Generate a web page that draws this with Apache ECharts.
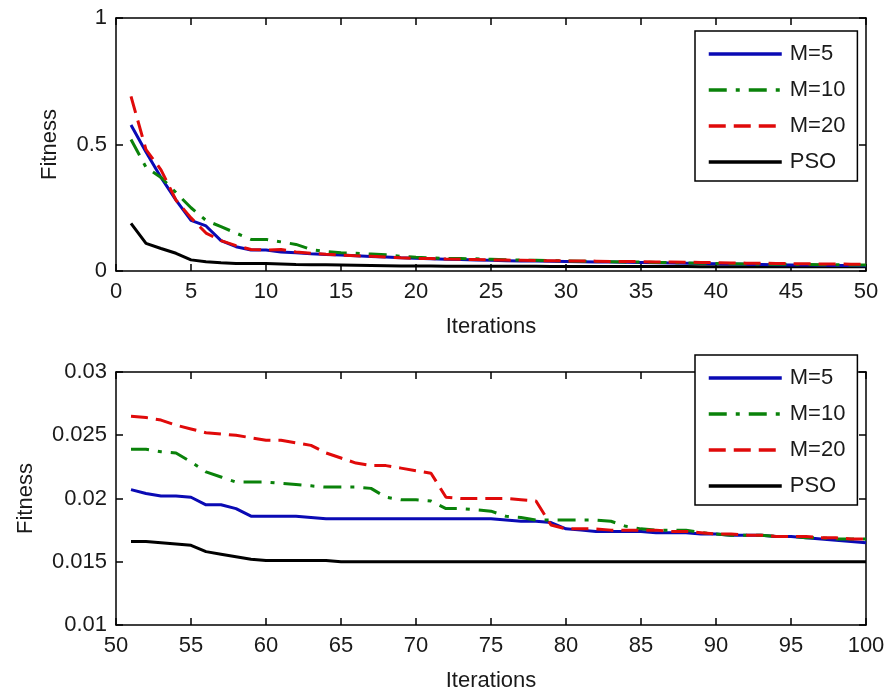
<!DOCTYPE html>
<html>
<head>
<meta charset="utf-8">
<title>Fitness vs Iterations</title>
<script src="https://cdn.jsdelivr.net/npm/echarts@6/dist/echarts.min.js"></script>
<style>
  html, body { margin: 0; padding: 0; background: #fff; }
  #chart { width: 888px; height: 696px; }
</style>
</head>
<body>
<div id="chart"></div>
<script>
// Best fitness per iteration (iterations 1..100) for each run
const seriesNames = ['M=5', 'M=10', 'M=20', 'PSO'];

const fitnessM5 = [
  0.577, 0.47, 0.37, 0.28, 0.20, 0.178, 0.12, 0.096, 0.083, 0.083,
  0.075, 0.072, 0.068, 0.065, 0.063, 0.060, 0.057, 0.055, 0.052, 0.050,
  0.048, 0.046, 0.045, 0.043, 0.042, 0.041, 0.040, 0.040, 0.039, 0.038,
  0.037, 0.036, 0.036, 0.035, 0.034, 0.033, 0.032, 0.031, 0.030, 0.029,
  0.028, 0.027, 0.026, 0.025, 0.024, 0.0235, 0.023, 0.022, 0.0215, 0.021,
  0.0207, 0.0204, 0.0202, 0.0202, 0.0201, 0.0195, 0.0195, 0.0192, 0.0186, 0.0186,
  0.0186, 0.0186, 0.0185, 0.0184, 0.0184, 0.0184, 0.0184, 0.0184, 0.0184, 0.0184,
  0.0184, 0.0184, 0.0184, 0.0184, 0.0184, 0.0183, 0.0182, 0.0182, 0.0181, 0.0176,
  0.0175, 0.0174, 0.0174, 0.0174, 0.0174, 0.0173, 0.0173, 0.0173, 0.0172, 0.0172,
  0.0171, 0.0171, 0.0171, 0.0170, 0.0170, 0.0169, 0.0168, 0.0167, 0.0166, 0.0165
];

const fitnessM10 = [
  0.52, 0.41, 0.37, 0.31, 0.25, 0.20, 0.175, 0.15, 0.125, 0.125,
  0.115, 0.105, 0.085, 0.077, 0.072, 0.070, 0.067, 0.064, 0.058, 0.054,
  0.052, 0.050, 0.049, 0.048, 0.046, 0.044, 0.043, 0.042, 0.041, 0.040,
  0.039, 0.038, 0.037, 0.036, 0.035, 0.034, 0.033, 0.032, 0.031, 0.030,
  0.029, 0.028, 0.027, 0.027, 0.026, 0.026, 0.025, 0.025, 0.024, 0.024,
  0.0239, 0.0239, 0.0237, 0.0236, 0.0229, 0.0221, 0.0217, 0.0213, 0.0213, 0.0213,
  0.0212, 0.0211, 0.0210, 0.0209, 0.0209, 0.0209, 0.0208, 0.0201, 0.0199, 0.0199,
  0.0198, 0.0192, 0.0192, 0.0191, 0.0190, 0.0186, 0.0185, 0.0183, 0.0183, 0.0183,
  0.0183, 0.0183, 0.0182, 0.0178, 0.0176, 0.0175, 0.0175, 0.0175, 0.0173, 0.0172,
  0.0171, 0.0171, 0.0171, 0.0170, 0.0170, 0.0169, 0.0169, 0.0168, 0.0168, 0.0168
];

const fitnessM20 = [
  0.69, 0.48, 0.40, 0.28, 0.21, 0.15, 0.12, 0.10, 0.085, 0.083,
  0.085, 0.075, 0.070, 0.066, 0.063, 0.060, 0.058, 0.055, 0.052, 0.050,
  0.049, 0.047, 0.046, 0.045, 0.044, 0.043, 0.042, 0.041, 0.041, 0.040,
  0.040, 0.039, 0.038, 0.038, 0.037, 0.036, 0.036, 0.035, 0.034, 0.033,
  0.032, 0.031, 0.031, 0.030, 0.029, 0.029, 0.028, 0.028, 0.027, 0.027,
  0.0265, 0.0264, 0.0262, 0.0258, 0.0255, 0.0252, 0.0251, 0.0250, 0.0248, 0.0246,
  0.0246, 0.0244, 0.0242, 0.0236, 0.0232, 0.0228, 0.0226, 0.0226, 0.0224, 0.0222,
  0.0220, 0.0201, 0.0200, 0.0200, 0.0200, 0.0200, 0.0199, 0.0198, 0.0179, 0.0176,
  0.0176, 0.0176, 0.0175, 0.0175, 0.0175, 0.0175, 0.0174, 0.0174, 0.0173, 0.0172,
  0.0172, 0.0171, 0.0171, 0.0170, 0.0170, 0.0170, 0.0169, 0.0169, 0.0168, 0.0168
];

const fitnessPSO = [
  0.188, 0.109, 0.089, 0.070, 0.044, 0.037, 0.033, 0.030, 0.030, 0.030,
  0.028, 0.026, 0.025, 0.025, 0.024, 0.023, 0.022, 0.021, 0.020, 0.020,
  0.0195, 0.019, 0.019, 0.0188, 0.0186, 0.0185, 0.0184, 0.0183, 0.0182, 0.018,
  0.018, 0.0179, 0.0178, 0.0177, 0.0176, 0.0175, 0.0174, 0.0173, 0.0172, 0.0171,
  0.017, 0.017, 0.0169, 0.0169, 0.0168, 0.0168, 0.0167, 0.0167, 0.0167, 0.0166,
  0.0166, 0.0166, 0.0165, 0.0164, 0.0163, 0.0158, 0.0156, 0.0154, 0.0152, 0.0151,
  0.0151, 0.0151, 0.0151, 0.0151, 0.0150, 0.0150, 0.0150, 0.0150, 0.0150, 0.0150,
  0.0150, 0.0150, 0.0150, 0.0150, 0.0150, 0.0150, 0.0150, 0.0150, 0.0150, 0.0150,
  0.0150, 0.0150, 0.0150, 0.0150, 0.0150, 0.0150, 0.0150, 0.0150, 0.0150, 0.0150,
  0.0150, 0.0150, 0.0150, 0.0150, 0.0150, 0.0150, 0.0150, 0.0150, 0.0150, 0.0150
];

// Axis ranges for the two panels
const topXTicks = { min: 0, max: 50, interval: 5 };
const topYTicks = { min: 0, max: 1, interval: 0.5 };
const bottomXTicks = { min: 50, max: 100, interval: 5 };
const bottomYTicks = { min: 0.01, max: 0.03, interval: 0.005 };

const allValues = [fitnessM5, fitnessM10, fitnessM20, fitnessPSO];

const FONT = 'Liberation Sans, Arial, sans-serif';
const TEXT_COLOR = '#1a1a1a';

const styles = [
  { color: '#0a0ab4', type: 'solid' },
  { color: '#0a820a', type: [18, 9, 4, 9] },
  { color: '#e00a0a', type: [17, 8] },
  { color: '#000000', type: 'solid' }
];

// [iteration, value] pairs
function toPoints(values, from, to) {
  const out = [];
  for (let i = from; i < to; i++) out.push([i + 1, values[i]]);
  return out;
}

function xAxisPair(gridIndex, ticks) {
  const common = {
    type: 'value', gridIndex, min: ticks.min, max: ticks.max, interval: ticks.interval,
    splitLine: { show: false },
    axisLine: { show: true, onZero: false, lineStyle: { color: '#000', width: 1.5 } },
    axisTick: { show: true, inside: true, length: 7, lineStyle: { color: '#000', width: 1.5 } }
  };
  return [
    Object.assign({}, common, {
      position: 'bottom',
      name: 'Iterations', nameLocation: 'middle', nameGap: 45,
      nameTextStyle: { fontFamily: FONT, fontSize: 22, color: TEXT_COLOR },
      axisLabel: { show: true, margin: 10, fontFamily: FONT, fontSize: 22, color: TEXT_COLOR }
    }),
    Object.assign({}, common, { position: 'top', axisLabel: { show: false } })
  ];
}

function yAxisPair(gridIndex, ticks, nameGap) {
  const common = {
    type: 'value', gridIndex, min: ticks.min, max: ticks.max, interval: ticks.interval,
    splitLine: { show: false },
    axisLine: { show: true, onZero: false, lineStyle: { color: '#000', width: 1.5 } },
    axisTick: { show: true, inside: true, length: 7, lineStyle: { color: '#000', width: 1.5 } }
  };
  return [
    Object.assign({}, common, {
      position: 'left',
      name: 'Fitness', nameLocation: 'middle', nameGap: nameGap, nameRotate: 90,
      nameTextStyle: { fontFamily: FONT, fontSize: 22, color: TEXT_COLOR },
      axisLabel: {
        show: true, margin: 9, fontFamily: FONT, fontSize: 22, color: TEXT_COLOR,
        formatter: v => String(+v.toFixed(4))
      }
    }),
    Object.assign({}, common, { position: 'right', axisLabel: { show: false } })
  ];
}

const series = [];
seriesNames.forEach((name, k) => {
  const base = {
    name, type: 'line', symbol: 'none', showSymbol: false, animation: false,
    lineStyle: { color: styles[k].color, type: styles[k].type, width: 3 },
    itemStyle: { color: styles[k].color },
    z: k === 3 ? 1 : 2
  };
  series.push(Object.assign({}, base, { xAxisIndex: 0, yAxisIndex: 0, data: toPoints(allValues[k], 0, 50) }));
  series.push(Object.assign({}, base, { xAxisIndex: 2, yAxisIndex: 2, data: toPoints(allValues[k], 50, 100) }));
});

function legendAt(top) {
  return {
    data: seriesNames,
    orient: 'vertical',
    left: 695, top: top,
    itemWidth: 73, itemHeight: 14, itemGap: 12,
    padding: [11, 12, 7, 12],
    backgroundColor: '#fff',
    borderColor: '#000', borderWidth: 1.5, borderRadius: 0,
    selectedMode: false,
    // line-only keys: hide the marker drawn in the middle of each key
    itemStyle: { opacity: 0 },
    lineStyle: { width: 3.5 },
    textStyle: { fontFamily: FONT, fontSize: 22, color: TEXT_COLOR, lineHeight: 24, padding: [0, 0, 0, 3] }
  };
}

const chart = echarts.init(document.getElementById('chart'), null, { renderer: 'canvas' });
chart.setOption({
  backgroundColor: '#ffffff',
  animation: false,
  grid: [
    { left: 116, top: 18, width: 750, height: 253 },
    { left: 116, top: 372, width: 750, height: 253 }
  ],
  xAxis: [...xAxisPair(0, topXTicks), ...xAxisPair(1, bottomXTicks)],
  yAxis: [...yAxisPair(0, topYTicks, 55), ...yAxisPair(1, bottomYTicks, 79)],
  legend: [legendAt(31), legendAt(355)],
  series
});
</script>
</body>
</html>
